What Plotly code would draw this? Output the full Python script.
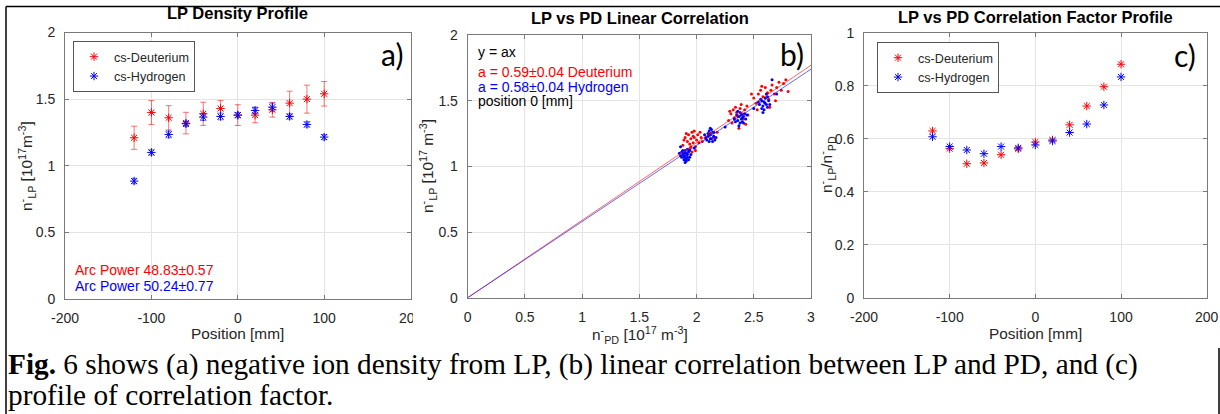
import plotly.graph_objects as go

W, H = 1220, 414


def px(x):
    return x / W


def py(y):
    return 1 - y / H


# ---------------- data ----------------
positions = [-120, -100, -80, -60, -40, -20, 0, 20, 40, 60, 80, 100]

# Panel a: LP density (1e17 m^-3)
d_lp = [1.21, 1.40, 1.36, 1.32, 1.39, 1.43, 1.38, 1.38, 1.42, 1.47, 1.50, 1.54]
d_lp_err = [0.087, 0.09, 0.091, 0.081, 0.087, 0.06, 0.078, 0.057, 0.055, 0.09, 0.105, 0.092]
h_lp = [0.885, 1.10, 1.235, 1.315, 1.365, 1.37, 1.38, 1.415, 1.44, 1.37, 1.31, 1.215]
h_lp_err = [0.02, 0.02, 0.025, 0.02, 0.025, 0.025, 0.02, 0.025, 0.03, 0.02, 0.02, 0.02]

# Panel b: scatter of LP vs PD densities
d_pd_x = [1.88, 1.90, 1.92, 1.93, 1.94, 1.95, 1.96, 1.97, 1.98, 1.99, 2.00, 2.01,
          1.94, 1.96, 1.98, 2.02, 2.04, 1.91, 1.95, 1.97, 2.03, 1.89, 2.05, 1.99,
          2.08, 2.12, 2.15, 2.18,
          2.28, 2.30, 2.32, 2.33, 2.34, 2.35, 2.36, 2.38, 2.39, 2.40, 2.41, 2.42,
          2.43, 2.44, 2.31, 2.37, 2.45, 2.29,
          2.50, 2.52, 2.54, 2.56, 2.58, 2.60, 2.62, 2.63, 2.65, 2.66, 2.68, 2.70,
          2.72, 2.74, 2.76, 2.78, 2.48, 2.57, 2.64, 2.69, 2.80, 2.53]
d_pd_y = [1.16, 1.22, 1.19, 1.24, 1.17, 1.21, 1.26, 1.18, 1.22, 1.15, 1.20, 1.24,
          1.13, 1.11, 1.27, 1.18, 1.22, 1.25, 1.15, 1.23, 1.26, 1.20, 1.19, 1.12,
          1.21, 1.25, 1.22, 1.26,
          1.35, 1.40, 1.43, 1.37, 1.45, 1.41, 1.38, 1.44, 1.47, 1.40, 1.36, 1.43,
          1.32, 1.46, 1.33, 1.29, 1.39, 1.42,
          1.52, 1.48, 1.55, 1.58, 1.53, 1.60, 1.56, 1.51, 1.58, 1.62, 1.55, 1.60,
          1.64, 1.58, 1.63, 1.66, 1.55, 1.61, 1.45, 1.50, 1.57, 1.43]
h_pd_x = [1.86, 1.88, 1.89, 1.90, 1.91, 1.92, 1.93, 1.87, 1.89, 1.91, 1.94, 1.88,
          1.90, 1.92, 1.85, 1.93, 1.90, 1.95, 1.87, 1.91, 1.89, 1.92, 1.86, 1.94,
          2.08, 2.10, 2.11, 2.12, 2.13, 2.14, 2.15, 2.09, 2.11, 2.13, 2.16, 2.10,
          2.12, 2.14, 2.17, 2.07, 2.12, 2.15,
          2.33, 2.35, 2.36, 2.37, 2.38, 2.39, 2.40, 2.41, 2.42, 2.38, 2.36, 2.40,
          2.43, 2.37, 2.39, 2.34, 2.41, 2.44,
          2.55, 2.57, 2.58, 2.59, 2.60, 2.61, 2.62, 2.59, 2.57, 2.63, 2.60, 2.56,
          2.62, 2.64, 2.58, 2.61, 2.66, 2.54,
          2.50, 2.70, 2.25, 1.98]
h_pd_y = [1.15, 1.12, 1.10, 1.08, 1.06, 1.09, 1.11, 1.07, 1.05, 1.04, 1.07, 1.09,
          1.12, 1.13, 1.10, 1.05, 1.03, 1.09, 1.11, 1.10, 1.07, 1.07, 1.08, 1.12,
          1.22, 1.25, 1.27, 1.24, 1.21, 1.26, 1.23, 1.20, 1.19, 1.28, 1.20, 1.23,
          1.29, 1.19, 1.22, 1.24, 1.21, 1.26,
          1.36, 1.39, 1.35, 1.38, 1.41, 1.36, 1.34, 1.38, 1.40, 1.33, 1.42, 1.37,
          1.36, 1.31, 1.39, 1.34, 1.33, 1.39,
          1.47, 1.50, 1.46, 1.49, 1.52, 1.47, 1.45, 1.43, 1.44, 1.50, 1.48, 1.51,
          1.53, 1.47, 1.41, 1.55, 1.66, 1.49,
          1.44, 1.55, 1.30, 1.14]
fit_slope = {"Deuterium": 0.59, "Hydrogen": 0.58}
fit_x = [0, 3]

# Panel c: correlation factor nLP/nPD
d_cf = [0.630, 0.563, 0.506, 0.509, 0.540, 0.562, 0.588, 0.596, 0.653, 0.724, 0.797, 0.882]
h_cf = [0.608, 0.571, 0.558, 0.544, 0.571, 0.566, 0.577, 0.592, 0.624, 0.656, 0.728, 0.834]

# tick labels
pos_ticks = [-200, -100, 0, 100, 200]
pos_ticktext = ["-200", "-100", "0", "100", "200"]
dens_ticks = [0, 0.5, 1, 1.5, 2]
dens_ticktext = ["0", "0.5", "1", "1.5", "2"]
pd_ticks = [0, 0.5, 1, 1.5, 2, 2.5, 3]
pd_ticktext = ["0", "0.5", "1", "1.5", "2", "2.5", "3"]
cf_ticks = [0, 0.2, 0.4, 0.6, 0.8, 1]
cf_ticktext = ["0", "0.2", "0.4", "0.6", "0.8", "1"]

RED = "#ff0000"
BLUE = "#0000ff"
FONT = "Liberation Sans"
TXT = "#262626"

fig = go.Figure()

# ---------- panel a ----------
fig.add_trace(go.Scatter(
    x=positions, y=d_lp, mode="markers", name="cs-Deuterium",
    marker=dict(symbol="asterisk-open", size=7, color=RED, line=dict(color=RED, width=1)),
    error_y=dict(type="data", array=d_lp_err, color="rgba(255,0,0,0.55)", thickness=1, width=3),
    xaxis="x", yaxis="y", legend="legend"))
fig.add_trace(go.Scatter(
    x=positions, y=h_lp, mode="markers", name="cs-Hydrogen",
    marker=dict(symbol="asterisk-open", size=7, color=BLUE, line=dict(color=BLUE, width=1)),
    error_y=dict(type="data", array=h_lp_err, color="rgba(0,0,255,0.55)", thickness=1, width=3),
    xaxis="x", yaxis="y", legend="legend"))

# ---------- panel b ----------
fig.add_trace(go.Scatter(
    x=d_pd_x, y=d_pd_y, mode="markers", showlegend=False,
    marker=dict(size=3, color=RED), xaxis="x2", yaxis="y2"))
fig.add_trace(go.Scatter(
    x=h_pd_x, y=h_pd_y, mode="markers", showlegend=False,
    marker=dict(size=3, color=BLUE), xaxis="x2", yaxis="y2"))
for gas, col in (("Deuterium", "rgba(255,0,0,0.6)"), ("Hydrogen", "rgba(0,0,255,0.6)")):
    a = fit_slope[gas]
    fig.add_trace(go.Scatter(
        x=fit_x, y=[a * v for v in fit_x], mode="lines", showlegend=False,
        line=dict(color=col, width=1), xaxis="x2", yaxis="y2"))

# ---------- panel c ----------
fig.add_trace(go.Scatter(
    x=positions, y=d_cf, mode="markers", name="cs-Deuterium",
    marker=dict(symbol="asterisk-open", size=7, color=RED, line=dict(color=RED, width=1)),
    xaxis="x3", yaxis="y3", legend="legend2"))
fig.add_trace(go.Scatter(
    x=positions, y=h_cf, mode="markers", name="cs-Hydrogen",
    marker=dict(symbol="asterisk-open", size=7, color=BLUE, line=dict(color=BLUE, width=1)),
    xaxis="x3", yaxis="y3", legend="legend2"))

axis_style = dict(
    showline=True, linecolor="#7a7a7a", linewidth=1, mirror="ticks",
    ticks="inside", ticklen=4, tickcolor="#7a7a7a",
    showgrid=True, gridcolor="#e4e4e4", gridwidth=1, zeroline=False,
    tickfont=dict(family=FONT, size=14, color=TXT), fixedrange=True,
    automargin=False, ticklabelstandoff=6,
)

fig.update_layout(
    template="none",
    width=W, height=H, margin=dict(l=0, r=0, t=0, b=0, pad=0),
    paper_bgcolor="white", plot_bgcolor="white",
    font=dict(family=FONT, color=TXT),
    xaxis=dict(domain=[px(65), px(410.6)], anchor="y", range=[-200, 200],
               tickvals=pos_ticks, ticktext=pos_ticktext, **axis_style),
    yaxis=dict(domain=[py(299), py(32.5)], anchor="x", range=[0, 2],
               tickvals=dens_ticks, ticktext=dens_ticktext, **axis_style),
    xaxis2=dict(domain=[px(467.7), px(811)], anchor="y2", range=[0, 3],
                tickvals=pd_ticks, ticktext=pd_ticktext, **axis_style),
    yaxis2=dict(domain=[py(297.7), py(35)], anchor="x2", range=[0, 2],
                tickvals=dens_ticks, ticktext=dens_ticktext, **axis_style),
    xaxis3=dict(domain=[px(864), px(1206.7)], anchor="y3", range=[-200, 200],
                tickvals=pos_ticks, ticktext=pos_ticktext, **axis_style),
    yaxis3=dict(domain=[py(297.7), py(33)], anchor="x3", range=[0, 1],
                tickvals=cf_ticks, ticktext=cf_ticktext, **axis_style),
    legend=dict(x=px(73), y=py(41), xanchor="left", yanchor="top",
                bgcolor="white", bordercolor="#555555", borderwidth=1,
                font=dict(family=FONT, size=12.6, color=TXT), tracegroupgap=0,
                itemwidth=30),
    legend2=dict(x=px(877), y=py(42), xanchor="left", yanchor="top",
                 bgcolor="white", bordercolor="#555555", borderwidth=1,
                 font=dict(family=FONT, size=12.6, color=TXT), tracegroupgap=0,
                 itemwidth=30),
)

ann = []


def add_text(text, x, y, size=14, color=TXT, xanchor="center", yanchor="middle",
             family=FONT, angle=0):
    ann.append(dict(text=text, x=px(x), y=py(y), xref="paper", yref="paper",
                    showarrow=False, xanchor=xanchor, yanchor=yanchor,
                    textangle=angle, font=dict(family=family, size=size, color=color)))


# titles
add_text("<b>LP Density Profile</b>", 237.8, 12.5, size=16.5, color="#000000")
add_text("<b>LP vs PD Linear Correlation</b>", 639.5, 18.5, size=16.5, color="#000000")
add_text("<b>LP vs PD Correlation Factor Profile</b>", 1035.5, 17.5, size=16.5, color="#000000")

# axis titles
add_text("Position [mm]", 237.8, 333, size=15.4)
add_text("n<sup>-</sup><sub>PD</sub> [10<sup>17</sup> m<sup>-3</sup>]", 639.5, 335, size=15.4)
add_text("Position [mm]", 1035.5, 333, size=15.4)
add_text("n<sup>-</sup><sub>LP</sub> [10<sup>17</sup>m<sup>-3</sup>]", 27, 166, size=15.4, angle=-90)
add_text("n<sup>-</sup><sub>LP</sub> [10<sup>17</sup> m<sup>-3</sup>]", 428, 166, size=15.4, angle=-90)
add_text("n<sup>-</sup><sub>LP</sub>/n<sup>-</sup><sub>PD</sub>", 827, 165, size=15.4, angle=-90)

# panel a notes
add_text("Arc Power 48.83\u00b10.57", 73, 270, size=14, color=RED, xanchor="left")
add_text("Arc Power 50.24\u00b10.77", 73, 286, size=14, color=BLUE, xanchor="left")

# panel b notes
add_text("y = ax", 476, 52, size=14, color="#000000", xanchor="left")
add_text("a = 0.59\u00b10.04 Deuterium", 476, 72, size=14, color=RED, xanchor="left")
add_text("a = 0.58\u00b10.04 Hydrogen", 476, 86.5, size=14, color=BLUE, xanchor="left")
add_text("position 0 [mm]", 476, 101, size=14, color="#000000", xanchor="left")

# panel labels
add_text("a)", 405, 54, size=30, color="#000000", xanchor="right", family="Lato")
add_text("b)", 806, 54, size=30, color="#000000", xanchor="right", family="Lato")
add_text("c)", 1198, 55, size=30, color="#000000", xanchor="right", family="Lato")

# caption
add_text("<b>Fig.</b> 6 shows (a) negative ion density from LP, (b) linear correlation between LP and PD, and (c)",
         6, 364, size=29.3, color="#000000", xanchor="left", family="Liberation Serif")
add_text("profile of correlation factor.", 6, 395, size=29.3, color="#000000", xanchor="left",
         family="Liberation Serif")

fig.update_layout(annotations=ann)

shapes = [
    # page frame lines
    dict(type="line", xref="paper", yref="paper", x0=px(6), x1=1, y0=py(6.5), y1=py(6.5),
         line=dict(color="#000000", width=1.5)),
    dict(type="line", xref="paper", yref="paper", x0=px(6), x1=px(6), y0=py(6.5), y1=0,
         line=dict(color="#000000", width=1.5)),
    dict(type="line", xref="paper", yref="paper", x0=px(1219), x1=px(1219), y0=py(348), y1=0,
         line=dict(color="#000000", width=1.5)),
    # panel a image was cropped at its right edge
    dict(type="rect", xref="paper", yref="paper", x0=px(413), x1=px(445), y0=py(328), y1=py(304),
         fillcolor="white", line=dict(width=0), layer="above"),
]
fig.update_layout(shapes=shapes)

fig.write_html(
    "out.html",
    config={"displayModeBar": False},
    post_script="document.body.style.margin='0';document.body.style.padding='0';"
                "document.documentElement.style.overflow='hidden';",
)
